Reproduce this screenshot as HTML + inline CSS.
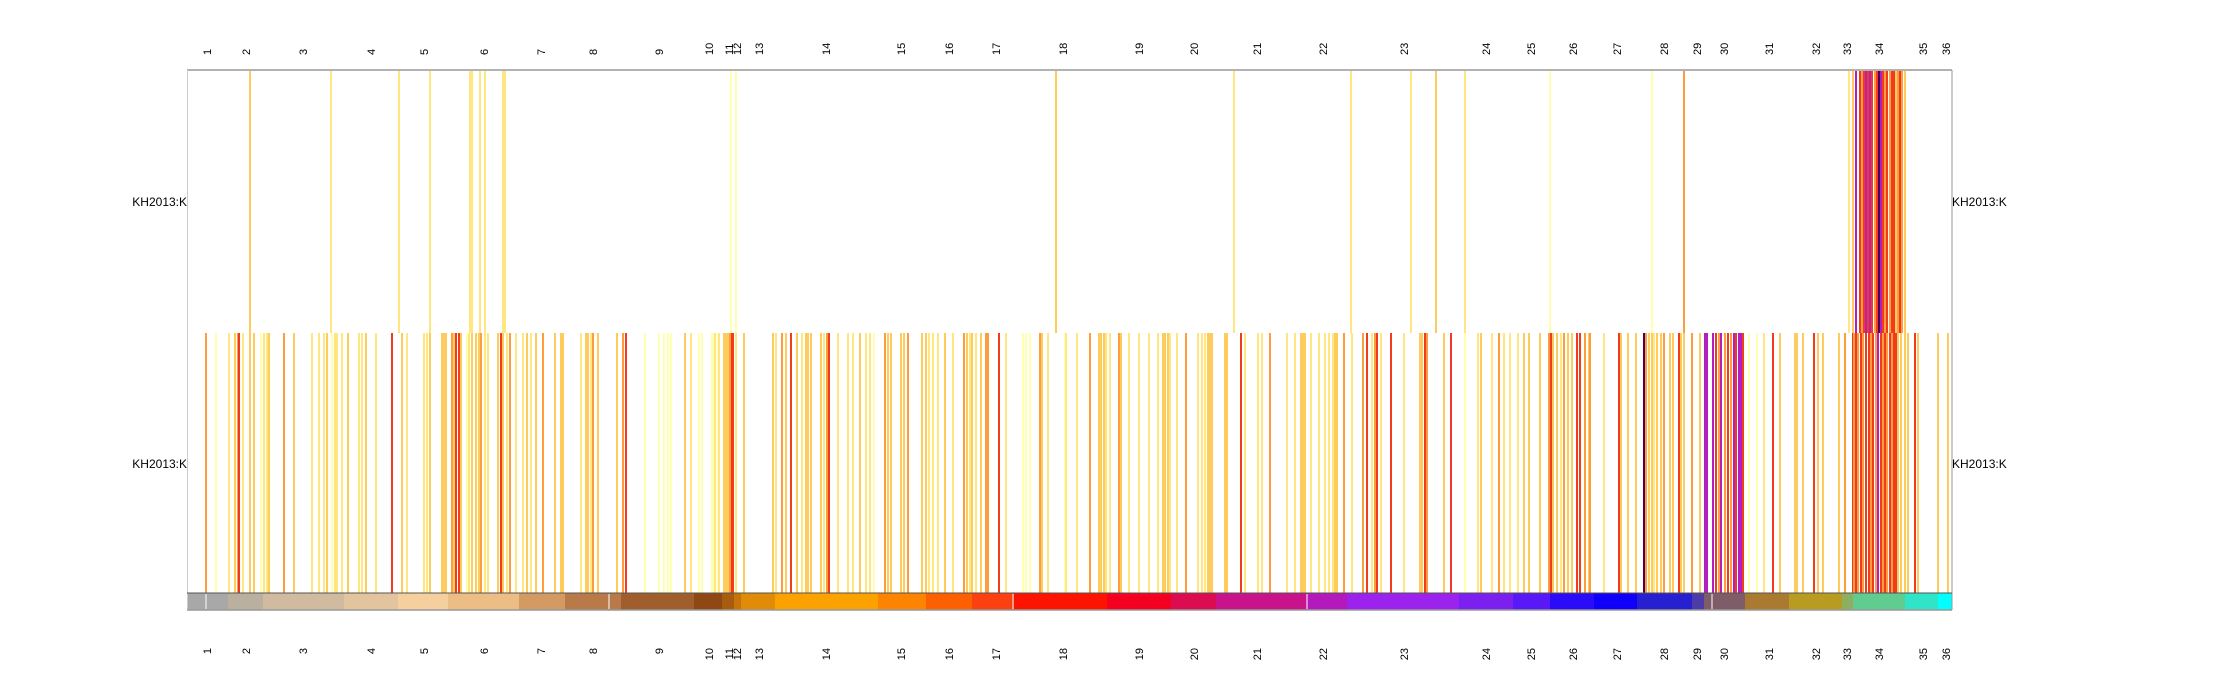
<!DOCTYPE html>
<html><head><meta charset="utf-8">
<style>
html,body{margin:0;padding:0;background:#fff;}
svg{display:block;font-family:"Liberation Sans",sans-serif;}
</style></head>
<body>
<svg id="chart" width="2240" height="682" viewBox="0 0 2240 682" xmlns="http://www.w3.org/2000/svg">
<g id="bands"></g>
<g id="marks"></g>
<g id="labels"></g>
<line x1="187" y1="70" x2="1952" y2="70" stroke="#999" stroke-width="1.5"/>
<line x1="187.5" y1="70" x2="187.5" y2="610" stroke="#ccc" stroke-width="1"/>
<line x1="1952" y1="70" x2="1952" y2="610" stroke="#999" stroke-width="1"/>
<line x1="187" y1="593" x2="1952" y2="593" stroke="#555" stroke-width="1"/>
<line x1="187" y1="610" x2="1952" y2="610" stroke="#999" stroke-width="1.5"/>
<text x="187" y="206" font-size="12" text-anchor="end">KH2013:K</text>
<text x="187" y="468" font-size="12" text-anchor="end">KH2013:K</text>
<text x="1952" y="206" font-size="12">KH2013:K</text>
<text x="1952" y="468" font-size="12">KH2013:K</text>
</svg>
<script>
const chromStarts = [187,228,263,344,398,448,519,565,621,694,722,734,741,775,878,926,972,1014,1107,1171,1216,1307,1347,1459,1513,1550,1594,1637,1692,1704,1745,1789,1842,1853,1905,1938,1952];
const chromColors = ["#a8a8a8","#bab0a0","#d0bba0","#e2c49e","#f6cf9e","#ecbd85","#d49a64","#b77a48","#a05e2c","#8f4814","#a85c10","#c87408","#e08c08","#fba200","#fc8400","#fd6000","#fd4010","#fd1400","#f40020","#dc0c50","#c8138a","#b419bc","#9c22ee","#7c20f0","#5818f8","#2a0cf8","#1000fa","#2620d0","#4c3ca8","#7e5c68","#aa7a30","#b89c22","#8cb060","#60cc90","#30e4c8","#00ffff"];
const chromLabels = ["1","2","3","4","5","6","7","8","9","10","11","12","13","14","15","16","17","18","19","20","21","22","23","24","25","26","27","28","29","30","31","32","33","34","35","36"];
const labelPos = [207,246,303,371,424,484,541,593,659,709,729,737,759,826,901,949,996,1063,1139,1194,1257,1323,1404,1486,1531,1573,1617,1664,1697,1724,1769,1816,1847,1879,1923,1946];
const centromerePos = [206,609,1013,1307,1712];
const valueColors = ["#ffffff","#ffffb0","#ffe680","#fecc5c","#fd9d3c","#f03b20","#b020c0","#500050"];
const topPos = [250,331,399,430,470,472,480,485,503,505,731,736,1056,1234,1351,1411,1436,1465,1550,1652,1684,1849,1853,1856,1860,1862,1864,1866,1868,1870,1872,1875,1877,1879,1881,1883,1885,1887,1890,1892,1894,1896,1898,1900,1902,1905];
const topVal = [3,2,2,2,2,2,2,2,2,2,1,1,3,2,2,2,3,2,1,1,4,2,3,6,5,4,5,6,5,6,5,4,5,7,6,5,4,5,4,5,5,3,4,5,4,3];
const botPos = [206,216,229,235,238,239,243,250,254,261,264,267,269,284,294,312,319,324,327,332,335,337,342,348,359,362,366,376,392,402,407,424,427,430,442,444,446,452,454,456,459,461,467,469,472,476,479,481,485,488,498,501,503,507,510,516,523,527,531,536,543,555,561,563,581,586,588,591,593,598,617,623,626,645,659,664,668,671,685,691,699,712,714,718,724,727,730,733,736,744,
702,715,719,725,728,732,744,773,776,782,786,791,797,802,806,808,811,821,824,827,829,838,848,853,860,866,870,874,885,888,891,901,904,908,922,926,929,933,938,945,953,964,967,970,972,976,981,986,988,999,1006,1023,1026,1030,1040,1042,1048,1065,1066,1077,1090,1099,1101,1104,1106,1110,1119,1121,1129,1139,1149,1158,1163,1165,1168,1170,1177,1186,1198,1202,1205,1208,1210,1212,1225,1227,1241,1245,1258,1262,1270,1287,1295,1301,1303,1305,1311,1319,1325,1329,1333,1335,1337,1344,1352,1363,1367,1372,1375,1377,1381,1391,1404,1420,1422,1425,1427,1444,1451,
1465,1478,1481,1492,1499,1504,1510,1518,1524,1529,1540,1549,1551,1553,1557,1561,1564,1568,1572,1577,1580,1585,1589,1590,1604,1619,1621,1628,1636,1644,1646,1649,1652,1654,1657,1661,1664,1670,1673,1679,1681,1684,1692,1700,1705,1707,1713,1716,1719,1721,1725,1728,1731,1734,1736,1739,1741,1743,1749,1757,1764,1773,1780,1795,1797,1803,1814,1818,1823,1839,1845,1853,1854,1856,1858,1861,1863,1866,1869,1871,1873,1876,1878,1881,1883,1885,1887,1890,1892,1894,1896,1898,1901,1905,1908,1915,1918,1938,1948];
const botVal = [4,1,2,3,4,5,2,3,3,1,2,2,3,4,3,2,2,2,3,1,2,2,2,3,2,2,3,2,5,3,2,2,2,3,3,3,3,4,3,5,5,3,1,2,3,3,3,4,2,2,3,5,3,2,4,2,2,3,2,3,4,3,3,3,2,3,3,2,4,3,3,4,5,1,1,1,1,1,3,2,1,1,1,1,3,3,4,5,2,3,
1,2,2,3,3,5,3,3,2,4,3,5,3,2,3,3,3,3,2,4,5,2,2,2,3,2,2,1,4,3,3,3,3,4,3,3,2,2,2,3,2,4,3,2,3,2,3,4,4,5,2,1,1,1,4,3,2,1,2,2,4,3,3,3,2,2,4,3,2,2,2,2,3,3,3,2,2,4,2,2,2,3,3,3,3,3,5,2,2,2,4,2,2,3,3,3,2,2,2,2,2,3,3,4,2,4,5,2,4,5,2,5,2,3,3,5,4,3,5,
1,2,3,2,4,2,2,2,3,3,3,4,5,3,3,2,4,3,3,5,5,4,3,4,2,5,3,3,3,7,4,3,3,2,3,3,4,3,3,5,3,3,4,3,6,6,6,5,4,6,4,5,4,6,5,6,6,5,1,1,2,5,3,3,3,3,5,3,3,3,4,5,4,5,4,5,4,5,5,4,5,4,6,5,4,5,4,5,4,5,5,3,3,3,3,5,3,3,3];

const domain=[187,1952], range=[187,1952];
function xScale(p){return range[0]+(p-domain[0])*(range[1]-range[0])/(domain[1]-domain[0]);}
const NS="http://www.w3.org/2000/svg";
const bands=document.getElementById('bands'), marks=document.getElementById('marks'), labels=document.getElementById('labels');
for(let i=0;i<chromColors.length;i++){
  const r=document.createElementNS(NS,'rect');
  const x0=xScale(chromStarts[i]), x1=xScale(chromStarts[i+1]);
  r.setAttribute('x',x0);r.setAttribute('y',593);r.setAttribute('width',x1-x0+0.5);r.setAttribute('height',17);
  r.setAttribute('fill',chromColors[i]);
  
  
  bands.appendChild(r);
}
for(let i=0;i<centromerePos.length;i++){
  const r=document.createElementNS(NS,'rect');
  r.setAttribute('x',xScale(centromerePos[i])-0.5);r.setAttribute('y',594);r.setAttribute('width',1);r.setAttribute('height',15);
  r.setAttribute('fill','#ffffff');
  
  
  bands.appendChild(r);
}
function drawRow(pos,val,y0,y1,name){
  for(let i=0;i<pos.length;i++){
    const r=document.createElementNS(NS,'rect');
    r.setAttribute('x',xScale(pos[i])-1);r.setAttribute('y',y0);r.setAttribute('width',2);r.setAttribute('height',y1-y0);
    r.setAttribute('fill',valueColors[val[i]]);
    
    
    marks.appendChild(r);
  }
}
drawRow(topPos,topVal,71,333,'top-row-feature');
drawRow(botPos,botVal,333,593,'bottom-row-feature');
for(let i=0;i<chromLabels.length;i++){
  [55,648].forEach(function(y,j){
    const t=document.createElementNS(NS,'text');
    t.setAttribute('transform','translate('+(xScale(labelPos[i])+4)+','+y+') rotate(-90)');
    t.setAttribute('font-size','11');
    t.setAttribute('text-anchor', j===0?'start':'end');
    t.textContent=chromLabels[i];
    
    
    labels.appendChild(t);
  });
}
</script>
</body></html>
